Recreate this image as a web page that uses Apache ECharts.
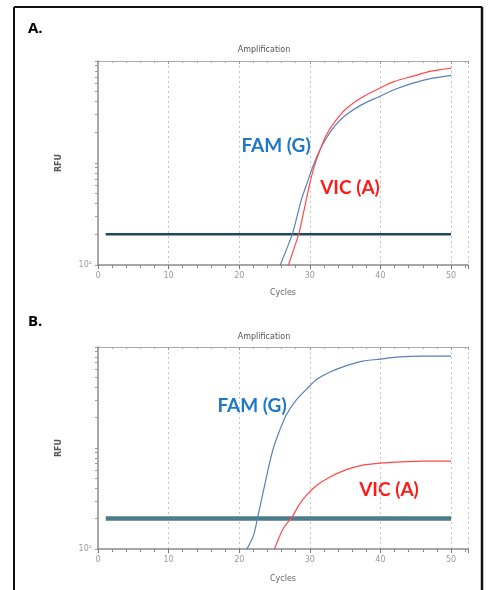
<!DOCTYPE html>
<html>
<head>
<meta charset="utf-8">
<script src="https://cdn.jsdelivr.net/npm/echarts@6/dist/echarts.min.js"></script>
<style>
html,body{margin:0;padding:0;background:#fff;}
#chart{width:488px;height:590px;}
</style>
</head>
<body>
<div id="chart"></div>
<script>
// ---- Data (cycles, RFU) ----
const xTickLabels = [0, 10, 20, 30, 40, 50];
const yTicks = [100,200,300,400,500,600,700,800,900,1000,2000,3000,4000,5000,6000,7000,8000,9000,10000];

// Panel A
const famA_cycles = [25.6, 26.8, 27.6, 28.2, 28.8, 29.6, 30.4, 31.3, 32.3, 33.6, 35.1, 37.3, 39.8, 42.0, 44.5, 47.2, 50.0];
const famA_rfu    = [92, 148, 209, 302, 437, 631, 912, 1288, 1738, 2344, 2951, 3715, 4467, 5248, 6026, 6761, 7244];
const vicA_cycles = [26.8, 27.8, 28.5, 29.0, 29.5, 30.0, 30.6, 31.4, 32.3, 33.6, 35.1, 37.3, 39.8, 42.0, 44.5, 47.2, 50.0];
const vicA_rfu    = [92, 148, 209, 302, 437, 631, 912, 1318, 1862, 2570, 3388, 4365, 5370, 6310, 7079, 7943, 8511];
const thrA_cycles = [1.1, 50];
const thrA_rfu    = [200, 200];

// Panel B
const famB_cycles = [20.9, 22.0, 22.6, 23.1, 23.6, 24.2, 24.8, 25.6, 26.6, 27.9, 29.5, 31.0, 32.8, 35.0, 37.5, 40.0, 42.2, 46.0, 50.0];
const famB_rfu    = [95, 135, 204, 295, 427, 661, 977, 1413, 2089, 2884, 3802, 4786, 5623, 6457, 7244, 7586, 7943, 8128, 8128];
const vicB_cycles = [24.9, 26.2, 27.6, 28.5, 29.5, 31.0, 32.8, 35.0, 37.5, 40.0, 42.2, 46.0, 50.0];
const vicB_rfu    = [96, 158, 214, 275, 339, 427, 513, 603, 676, 708, 724, 741, 741];
const thrB_cycles = [1.1, 50];
const thrB_rfu    = [200, 200];

const zip = (xs, ys) => xs.map((x, i) => [x, ys[i]]);

const FAM_LINE = '#5a80b8';
const VIC_LINE = '#ff4a4a';
const FAM_TEXT = '#1f78c6';
const VIC_TEXT = '#ff1a1a';

const grids = [
  {left: 98, top: 61, width: 370, height: 204},
  {left: 98, top: 347, width: 370, height: 202}
];

function xAxes(gi) {
  const base = {
    type: 'value', gridIndex: gi, min: 0, max: 52.4, interval: 10,
    minorTick: {show: true, splitNumber: 5, length: 3, lineStyle: {color: '#888'}},
    minorSplitLine: {show: false}
  };
  return [
    Object.assign({}, base, {
      position: 'bottom',
      axisLine: {show: true, lineStyle: {color: '#8a8a8a', width: 1.5}},
      axisTick: {show: true, inside: false, length: 4, lineStyle: {color: '#777'}},
      axisLabel: {show: true, customValues: xTickLabels, color: '#999', fontSize: 8, margin: 7, fontFamily: 'DejaVu Sans'},
      splitLine: {show: true, lineStyle: {type: [2, 3], color: '#c4c4c4', width: 1}},
    }),
    Object.assign({}, base, {
      position: 'top',
      axisLine: {show: true, lineStyle: {color: '#aaa', width: 1}},
      axisTick: {show: true, inside: true, length: 3, lineStyle: {color: '#999'}},
      minorTick: {show: true, splitNumber: 5, length: 2, lineStyle: {color: '#aaa'}},
      axisLabel: {show: false},
      splitLine: {show: false}
    })
  ];
}
function yAxes(gi) {
  const base = {type: 'log', gridIndex: gi, min: 100, max: 10000, logBase: 10};
  return [
    Object.assign({}, base, {
      position: 'left',
      axisLine: {show: true, lineStyle: {color: '#8a8a8a', width: 1.5}},
      axisTick: {show: true, inside: false, length: 3, customValues: yTicks, lineStyle: {color: '#777'}},
      axisLabel: {show: true, customValues: [100], formatter: () => '10²', color: '#999', fontSize: 8, margin: 6, fontFamily: 'DejaVu Sans'},
      splitLine: {show: false}
    }),
    Object.assign({}, base, {
      position: 'right',
      axisLine: {show: true, lineStyle: {color: '#aaa', width: 1}},
      axisTick: {show: true, inside: true, length: 3, customValues: yTicks, lineStyle: {color: '#999'}},
      axisLabel: {show: false},
      splitLine: {show: false}
    })
  ];
}

function lineSeries(xi, yi, data, color, width) {
  return {
    type: 'line', xAxisIndex: xi, yAxisIndex: yi, data: data,
    showSymbol: false, smooth: 0.3, clip: true, silent: true,
    lineStyle: {color: color, width: width}
  };
}

const option = {
  animation: false,
  backgroundColor: '#fff',
  grid: grids,
  xAxis: [...xAxes(0), ...xAxes(1)],
  yAxis: [...yAxes(0), ...yAxes(1)],
  series: [
    Object.assign(lineSeries(0, 0, zip(thrA_cycles, thrA_rfu), '#1b4a5c', 2.5), {smooth: false}),
    lineSeries(0, 0, zip(famA_cycles, famA_rfu), FAM_LINE, 1.2),
    lineSeries(0, 0, zip(vicA_cycles, vicA_rfu), VIC_LINE, 1.2),
    Object.assign(lineSeries(2, 2, zip(thrB_cycles, thrB_rfu), '#4c7b8b', 4.5), {smooth: false}),
    lineSeries(2, 2, zip(famB_cycles, famB_rfu), FAM_LINE, 1.2),
    lineSeries(2, 2, zip(vicB_cycles, vicB_rfu), VIC_LINE, 1.2)
  ],
  graphic: [
    // outer frame
    {type: 'line', shape: {x1: 14, y1: 7, x2: 482, y2: 7}, style: {stroke: '#111', lineWidth: 2}},
    {type: 'line', shape: {x1: 14, y1: 7, x2: 14, y2: 592}, style: {stroke: '#111', lineWidth: 2}},
    {type: 'line', shape: {x1: 482, y1: 7, x2: 482, y2: 592}, style: {stroke: '#111', lineWidth: 2.5}},
    // panel labels
    {type: 'text', left: 28, top: 21, style: {text: 'A.', font: 'bold 15px "Open Sans"', fill: '#000'}},
    {type: 'text', left: 28, top: 314, style: {text: 'B.', font: 'bold 15px "Open Sans"', fill: '#000'}},
    // titles
    {type: 'text', x: 264, y: 50, style: {text: 'Amplification', font: '8px "DejaVu Sans"', fill: '#555', align: 'center', verticalAlign: 'middle'}},
    {type: 'text', x: 264, y: 337, style: {text: 'Amplification', font: '8px "DejaVu Sans"', fill: '#555', align: 'center', verticalAlign: 'middle'}},
    // axis names
    {type: 'text', x: 283, y: 293, style: {text: 'Cycles', font: '8px "DejaVu Sans"', fill: '#666', align: 'center', verticalAlign: 'middle'}},
    {type: 'text', x: 283, y: 579, style: {text: 'Cycles', font: '8px "DejaVu Sans"', fill: '#666', align: 'center', verticalAlign: 'middle'}},
    {type: 'text', x: 59, y: 163, rotation: Math.PI / 2, style: {text: 'RFU', font: 'bold 8px "DejaVu Sans"', fill: '#555', align: 'center', verticalAlign: 'middle'}},
    {type: 'text', x: 59, y: 448, rotation: Math.PI / 2, style: {text: 'RFU', font: 'bold 8px "DejaVu Sans"', fill: '#555', align: 'center', verticalAlign: 'middle'}},
    // annotations
    {type: 'text', x: 276, y: 146, style: {text: 'FAM (G)', font: 'bold 19px Lato', fill: FAM_TEXT, align: 'center', verticalAlign: 'middle'}},
    {type: 'text', x: 350, y: 188, style: {text: 'VIC (A)', font: 'bold 19px Lato', fill: VIC_TEXT, align: 'center', verticalAlign: 'middle'}},
    {type: 'text', x: 252, y: 406, style: {text: 'FAM (G)', font: 'bold 19px Lato', fill: FAM_TEXT, align: 'center', verticalAlign: 'middle'}},
    {type: 'text', x: 389, y: 490, style: {text: 'VIC (A)', font: 'bold 19px Lato', fill: VIC_TEXT, align: 'center', verticalAlign: 'middle'}}
  ]
};

const chart = echarts.init(document.getElementById('chart'), null, {renderer: 'canvas'});
chart.setOption(option);
</script>
</body>
</html>
